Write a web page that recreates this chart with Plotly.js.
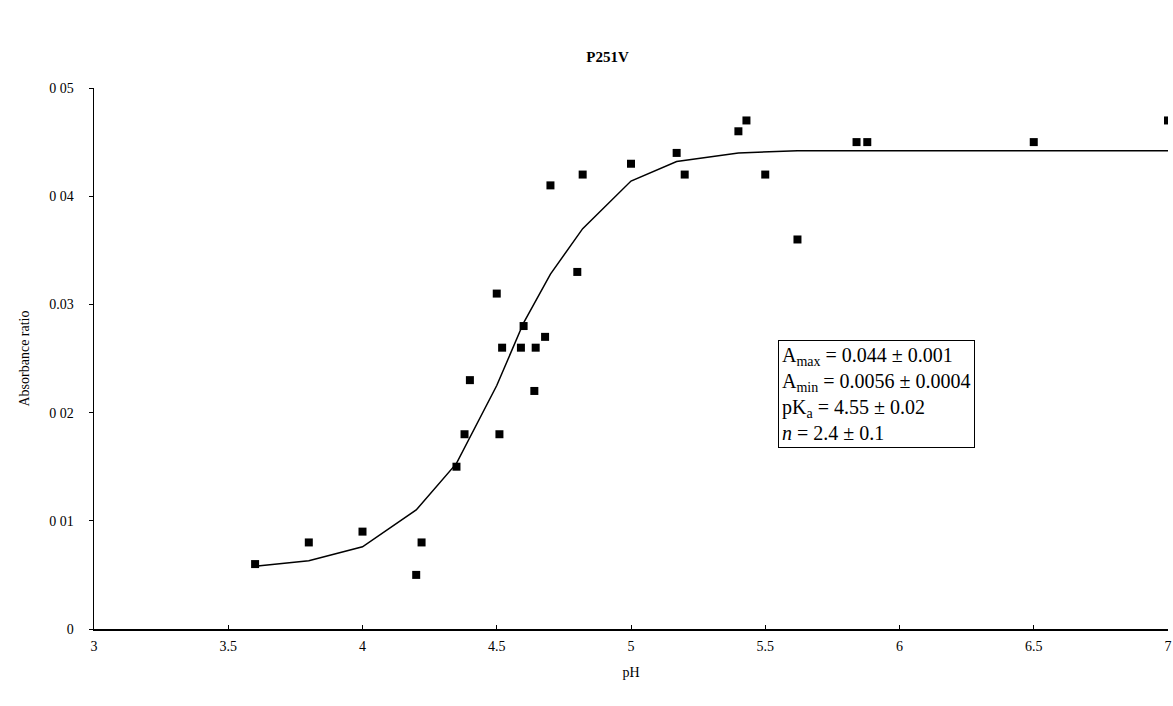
<!DOCTYPE html>
<html>
<head>
<meta charset="utf-8">
<script src="https://cdn.plot.ly/plotly-3.0.1.min.js"></script>
<style>html,body{margin:0;padding:0;background:#fff;}#chart{width:1173px;height:706px;}</style>
</head>
<body>
<div id="chart"></div>
<script>
const dataPH = [3.6, 3.8, 4.0, 4.2, 4.22, 4.35, 4.38, 4.4, 4.5, 4.51, 4.52, 4.59, 4.6, 4.64, 4.645, 4.68, 4.7, 4.8, 4.82, 5.0, 5.17, 5.2, 5.4, 5.43, 5.5, 5.62, 5.84, 5.88, 6.5, 7.0];
const dataRatio = [0.006, 0.008, 0.009, 0.005, 0.008, 0.015, 0.018, 0.023, 0.031, 0.018, 0.026, 0.026, 0.028, 0.022, 0.026, 0.027, 0.041, 0.033, 0.042, 0.043, 0.044, 0.042, 0.046, 0.047, 0.042, 0.036, 0.045, 0.045, 0.045, 0.047];
const fitPH = [3.6, 3.8, 4.0, 4.2, 4.35, 4.5, 4.6, 4.7, 4.82, 5.0, 5.17, 5.4, 5.62, 6.0, 7.0];
const fitRatio = [0.0058, 0.0063, 0.0076, 0.011, 0.0153, 0.0225, 0.0283, 0.0328, 0.037, 0.0414, 0.0432, 0.044, 0.0442, 0.0442, 0.0442];
const yTickVals = [0, 0.01, 0.02, 0.03, 0.04, 0.05];
const yTickText = ["0", "0 01", "0 02", "0.03", "0 04", "0 05"];
const xTickVals = [3, 3.5, 4, 4.5, 5, 5.5, 6, 6.5, 7];
const xTickText = ["3", "3.5", "4", "4.5", "5", "5.5", "6", "6.5", "7"];
const boxLines = ["A<sub>max</sub> = 0.044 ± 0.001", "A<sub>min</sub> = 0.0056 ± 0.0004", "pK<sub>a</sub> = 4.55 ± 0.02", "<i>n</i> = 2.4 ± 0.1"];

const serif = "Liberation Serif, Times New Roman, serif";
const traces = [
  {x: fitPH, y: fitRatio, type: "scatter", mode: "lines", line: {color: "#000", width: 1.5}, hoverinfo: "skip"},
  {x: dataPH, y: dataRatio, type: "scatter", mode: "markers", marker: {symbol: "square", size: 8, color: "#000"}}
];
const layout = {
  width: 1173, height: 706,
  margin: {l: 94, r: 5, t: 88, b: 77},
  paper_bgcolor: "#fff", plot_bgcolor: "#fff",
  showlegend: false,
  font: {family: serif, size: 14, color: "#000"},
  title: {text: "<b>P251V</b>", x: 0.518, xanchor: "center", y: 0.919, yanchor: "middle", font: {family: serif, size: 15, color: "#000"}},
  xaxis: {range: [3, 7], tickvals: xTickVals, ticktext: xTickText, showgrid: false, zeroline: false,
    showline: true, linecolor: "#000", linewidth: 1.5, ticks: "inside", ticklen: 4, tickcolor: "#000",
    ticklabelstandoff: 4,
    title: {text: "pH", font: {family: serif, size: 14}, standoff: 14}, tickfont: {family: serif, size: 14}},
  yaxis: {range: [0, 0.05], tickvals: yTickVals, ticktext: yTickText, showgrid: false, zeroline: false,
    showline: true, linecolor: "#000", linewidth: 1.5, ticks: "outside", ticklen: 4, tickcolor: "#000",
    ticklabelstandoff: 12,
    title: {text: "Absorbance ratio", font: {family: serif, size: 14}, standoff: 16}, tickfont: {family: serif, size: 14}},
  annotations: [{
    xref: "paper", yref: "paper", x: (778-94)/1074, y: (629-340)/541, xanchor: "left", yanchor: "top",
    text: boxLines.join("<br>"), showarrow: false, align: "left",
    font: {family: serif, size: 20, color: "#000"},
    bordercolor: "#000", borderwidth: 1, borderpad: 3, bgcolor: "#fff"
  }]
};
Plotly.newPlot("chart", traces, layout, {displayModeBar: false, staticPlot: true});
</script>
</body>
</html>
